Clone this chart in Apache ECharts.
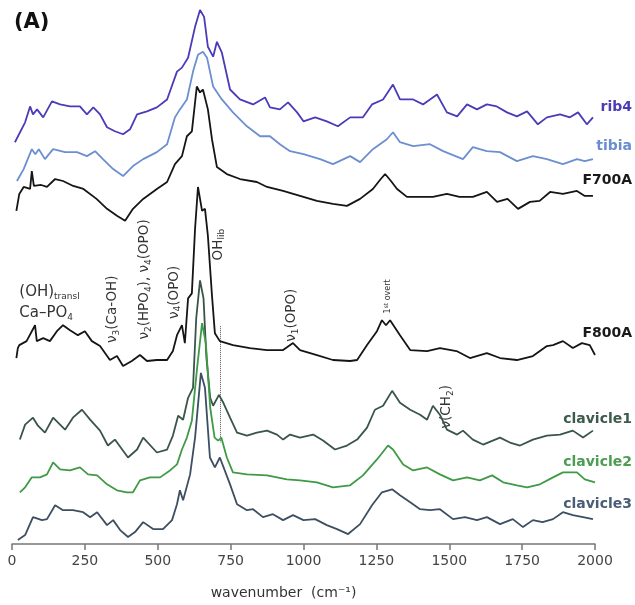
<!DOCTYPE html>
<html><head><meta charset="utf-8">
<script src="https://cdn.jsdelivr.net/npm/echarts@6/dist/echarts.min.js"></script>
<style>html,body{margin:0;padding:0;background:#fff}#c{width:635px;height:605px}</style>
</head><body><div id="c"></div>
<script>
// x ticks
const xTicks = [0,250,500,750,1000,1250,1500,1750,2000];
const seriesNames = ['rib4','tibia','F700A','F800A','clavicle1','clavicle2','clavicle3'];
// stacked intensities (a.u.), [wavenumber, intensity]
const rib4 = [[10,404],[45,424],[62,440],[72,432],[86,437],[107,429],[137,445],[165,442],[199,440],[233,440],[257,432],[279,439],[302,432],[326,419],[353,415],[381,412],[405,417],[429,432],[463,435],[497,439],[532,447],[566,475],[583,479],[604,489],[628,520],[645,537],[659,530],[672,500],[690,490],[703,505],[720,494],[748,457],[782,447],[827,442],[868,449],[885,439],[919,437],[947,444],[978,434],[1000,425],[1040,429],[1080,425],[1118,420],[1160,429],[1204,429],[1235,442],[1273,447],[1307,462],[1331,447],[1376,447],[1410,442],[1458,452],[1492,434],[1527,430],[1561,442],[1595,437],[1629,442],[1663,440],[1698,434],[1732,430],[1767,435],[1804,422],[1835,429],[1880,432],[1914,429],[1942,434],[1972,422],[1993,429]];
const tibia = [[17,365],[40,377],[68,397],[80,392],[92,397],[113,387],[141,397],[182,394],[223,394],[257,390],[285,395],[312,387],[347,377],[381,370],[415,380],[450,387],[497,394],[532,402],[559,429],[576,437],[600,447],[621,475],[638,492],[655,495],[669,489],[690,460],[720,447],[758,434],[806,420],[851,410],[885,410],[919,402],[954,395],[1000,392],[1057,387],[1101,382],[1160,390],[1194,384],[1238,397],[1286,407],[1307,414],[1331,404],[1376,400],[1434,402],[1479,395],[1547,387],[1581,399],[1629,395],[1674,394],[1732,385],[1787,390],[1835,387],[1890,382],[1938,387],[1965,385],[1993,387]];
const f700a = [[15,335],[25,352],[40,359],[62,357],[68,375],[75,360],[100,361],[120,359],[148,367],[175,365],[210,360],[245,357],[290,347],[326,337],[360,330],[388,325],[415,337],[450,347],[497,357],[532,364],[559,382],[583,390],[600,410],[617,415],[634,460],[645,454],[655,457],[672,437],[686,407],[703,379],[737,372],[782,367],[840,364],[875,359],[930,355],[988,350],[1046,345],[1101,342],[1149,340],[1194,347],[1238,357],[1265,367],[1280,372],[1300,365],[1321,357],[1355,349],[1400,349],[1444,349],[1492,352],[1535,349],[1581,349],[1629,354],[1664,344],[1700,347],[1736,337],[1777,344],[1810,345],[1846,354],[1890,352],[1938,355],[1965,350],[1993,350]];
const f800a = [[15,187],[20,197],[25,200],[50,204],[79,220],[85,204],[107,207],[130,204],[154,214],[175,220],[199,215],[226,210],[250,214],[274,204],[302,199],[336,185],[360,189],[381,179],[411,184],[439,190],[463,184],[497,185],[532,185],[552,194],[566,210],[583,220],[593,202],[604,247],[617,252],[628,317],[638,359],[652,335],[662,337],[672,310],[686,250],[696,212],[713,204],[758,200],[816,197],[875,195],[930,195],[964,202],[988,195],[1046,190],[1101,185],[1160,184],[1184,185],[1218,200],[1252,214],[1269,225],[1283,220],[1297,225],[1331,210],[1366,195],[1424,194],[1468,197],[1525,194],[1571,187],[1629,192],[1674,187],[1732,185],[1787,189],[1835,199],[1856,200],[1890,204],[1924,197],[1955,202],[1982,200],[2000,190]];
const clavicle1 = [[27,105],[45,120],[72,127],[89,119],[113,112],[141,127],[182,115],[209,127],[240,135],[268,125],[302,114],[329,99],[353,105],[398,87],[429,95],[450,107],[497,92],[532,95],[552,109],[570,129],[587,125],[604,147],[621,157],[632,227],[645,265],[657,247],[667,187],[680,147],[690,139],[710,150],[725,142],[748,127],[772,112],[806,109],[840,112],[875,114],[909,110],[930,105],[954,110],[988,107],[1033,110],[1067,104],[1108,95],[1149,99],[1184,105],[1218,117],[1245,135],[1273,139],[1304,154],[1331,142],[1366,135],[1400,130],[1424,125],[1444,139],[1468,130],[1492,115],[1527,110],[1547,114],[1581,105],[1616,100],[1674,107],[1708,102],[1743,99],[1787,105],[1835,109],[1880,110],[1924,114],[1959,107],[1993,114]];
const clavicle2 = [[27,52],[45,57],[68,67],[96,67],[120,70],[141,82],[165,75],[199,74],[233,77],[261,70],[292,69],[326,60],[360,54],[394,52],[415,52],[439,64],[473,67],[508,67],[542,74],[566,80],[583,95],[600,107],[617,124],[635,177],[652,222],[665,202],[680,137],[695,107],[707,104],[718,107],[737,87],[758,72],[806,70],[875,69],[943,65],[988,64],[1046,62],[1101,57],[1160,59],[1204,69],[1252,85],[1290,99],[1307,95],[1342,80],[1376,74],[1424,77],[1468,70],[1513,64],[1561,67],[1605,64],[1647,69],[1685,62],[1732,59],[1767,57],[1811,60],[1856,67],[1890,72],[1938,72],[1965,65],[2000,62]];
const clavicle3 = [[20,4],[45,9],[72,27],[103,24],[120,25],[148,39],[175,34],[209,34],[244,32],[268,27],[292,32],[326,19],[347,24],[371,14],[398,7],[422,12],[450,22],[484,15],[518,15],[549,24],[566,40],[576,54],[587,44],[611,70],[628,107],[648,172],[662,157],[679,87],[696,77],[713,87],[748,60],[772,40],[806,34],[827,35],[861,27],[895,30],[930,24],[964,29],[1000,24],[1040,25],[1080,19],[1115,15],[1153,10],[1194,20],[1235,39],[1269,52],[1304,55],[1331,49],[1366,42],[1400,35],[1434,34],[1468,35],[1513,25],[1554,27],[1595,24],[1629,27],[1674,20],[1718,25],[1753,17],[1787,24],[1820,22],[1856,25],[1890,32],[1924,29],[1959,27],[1993,25]];
// series label heights (intensity units)
const labelLevels = [439, 400, 366, 212, 125, 82, 40];
// band annotations: [text(rich), wavenumber, intensity, rotated]
const annotations = [
  ['{t|ν}{s|3}{t|(Ca-OH)}', 346, 236, true],
  ['{t|ν}{s|2}{t|(HPO}{s|4}{t|), ν}{s|4}{t|(OPO)}', 456, 266, true],
  ['{t|ν}{s|4}{t|(OPO)}', 556, 253, true],
  ['{t|OH}{s|lib}', 707, 301, true],
  ['{t|ν}{s|1}{t|(OPO)}', 960, 230, true],
  ['{m|1}{ms|st}{m| overt}', 1290, 249, true],
  ['{t|ν(CH}{s|2}{t|)}', 1490, 138, true]
];
const dottedLine = [[715, 219], [715, 102]];

const FONT = 'DejaVu Sans';
const colors = ['#4a3bb8','#6b8fd0','#151515','#151515','#3a5548','#3f9a46','#3e4e62'];
const labelColors = ['#4a3cb6','#6a8cd0','#1a1a1a','#1a1a1a','#3d5a4d','#4c9c52','#4a5d76'];
const dataSets = [rib4, tibia, f700a, f800a, clavicle1, clavicle2, clavicle3];

const chart = echarts.init(document.getElementById('c'));
const series = dataSets.map((d, i) => ({
  name: seriesNames[i], type: 'line', data: d, showSymbol: false, symbol: 'none',
  lineStyle: { color: colors[i], width: 1.8 }, z: 10 - (i === 3 ? 5 : 0),
  animation: false
}));
series[3].markLine = {
  silent: true, symbol: 'none', animation: false,
  lineStyle: { type: 'dotted', color: '#555', width: 1 },
  label: { show: false },
  data: [[{ coord: dottedLine[0] }, { coord: dottedLine[1] }]]
};
chart.setOption({
  animation: false,
  grid: { left: 12, right: 40, top: 0, bottom: 58 },
  xAxis: {
    type: 'value', min: xTicks[0], max: xTicks[xTicks.length - 1], interval: xTicks[1] - xTicks[0],
    name: 'wavenumber  (cm⁻¹)', nameLocation: 'middle', nameGap: 42,
    nameTextStyle: { color: '#333', fontSize: 14, fontFamily: FONT, padding: [0, 40, 0, 0] },
    axisLine: { lineStyle: { color: '#777', width: 1.5 } },
    axisTick: { show: true, length: 6, lineStyle: { color: '#777', width: 1.5 } },
    axisLabel: { color: '#444', fontSize: 14, fontFamily: FONT, margin: 10, formatter: v => String(v) },
    splitLine: { show: false }
  },
  yAxis: { type: 'value', min: 0, max: 547, show: false },
  series: series
});

function place() {
  const g = [];
  g.push({ type: 'text', left: 14, top: 12, style: { text: '(A)', font: 'bold 21px ' + FONT, fill: '#111' } });
  labelLevels.forEach((lv, i) => {
    const p = chart.convertToPixel({ gridIndex: 0 }, [2000, lv]);
    g.push({ type: 'text', x: p[0] + 37, y: p[1], style: {
      text: seriesNames[i], font: 'bold 14px ' + FONT, fill: labelColors[i],
      align: 'right', verticalAlign: 'middle' } });
  });
  const sub = { font: '9px ' + FONT, fill: '#333', padding: [9, 0, 0, 0] };
  const p1 = chart.convertToPixel({ gridIndex: 0 }, [25, 253]);
  g.push({ type: 'text', x: p1[0], y: p1[1], style: {
    text: '{t|(OH)}{s|transl}', align: 'left', verticalAlign: 'middle',
    rich: { t: { font: '15px ' + FONT, fill: '#333' }, s: sub } } });
  const p2 = chart.convertToPixel({ gridIndex: 0 }, [25, 232]);
  g.push({ type: 'text', x: p2[0], y: p2[1], style: {
    text: '{t|Ca–PO}{s|4}', align: 'left', verticalAlign: 'middle',
    rich: { t: { font: '15px ' + FONT, fill: '#333' }, s: sub } } });
  annotations.forEach(a => {
    const p = chart.convertToPixel({ gridIndex: 0 }, [a[1], a[2]]);
    g.push({ type: 'text', x: p[0], y: p[1], rotation: a[3] ? Math.PI / 2 : 0, style: {
      text: a[0], align: 'center', verticalAlign: 'middle',
      rich: {
        t: { font: '13.5px ' + FONT, fill: '#333' },
        s: { font: '9px ' + FONT, fill: '#333', padding: [8, 0, 0, 0] },
        m: { font: '8px ' + FONT, fill: '#333' },
        ms: { font: '6px ' + FONT, fill: '#333', padding: [0, 0, 3, 0] }
      } } });
  });
  chart.setOption({ graphic: g });
}
place();
</script></body></html>
